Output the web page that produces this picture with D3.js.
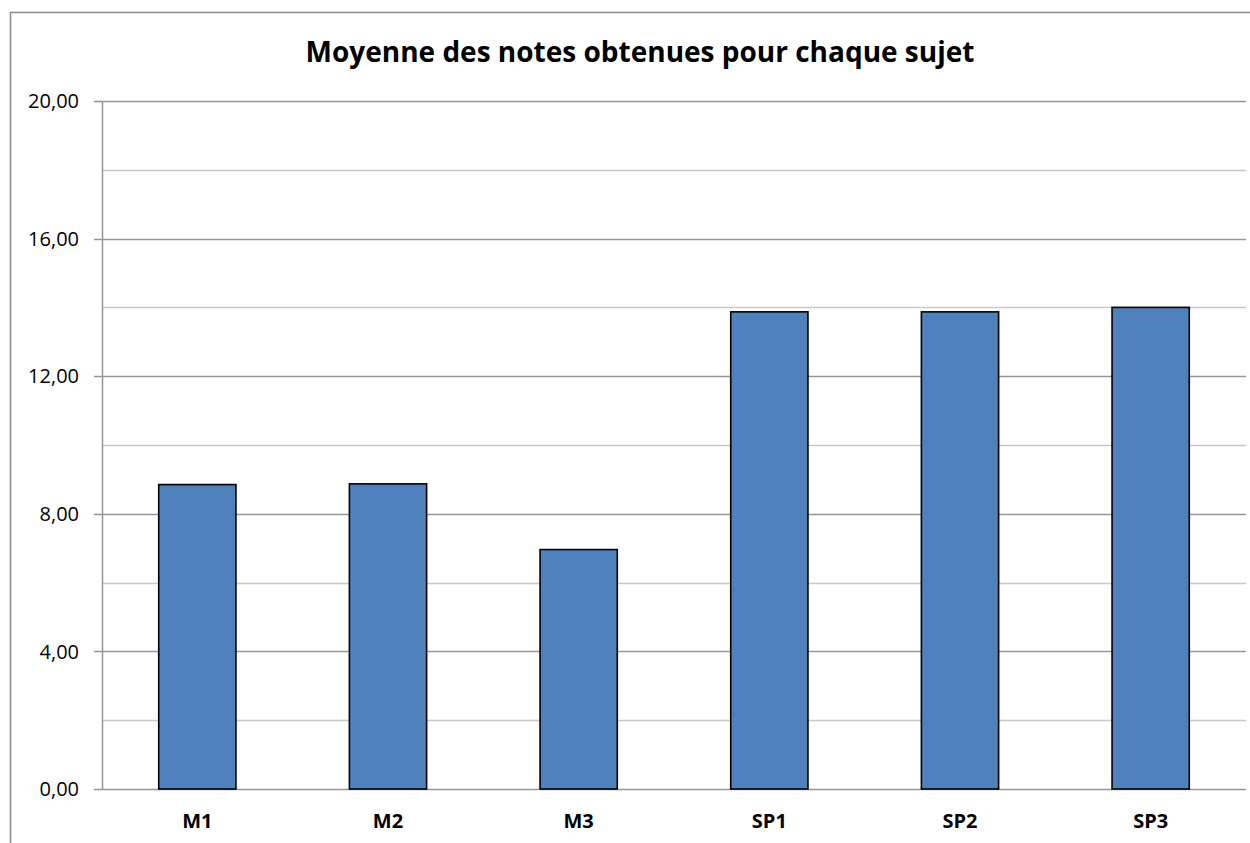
<!DOCTYPE html>
<html>
<head>
<meta charset="utf-8">
<script src="https://cdn.jsdelivr.net/npm/d3@7"></script>
<style>
  body { margin: 0; background: #fff; }
  svg { display: block; }
</style>
</head>
<body>
<div id="wrapper"></div>
<script>
const categories = ['M1', 'M2', 'M3', 'SP1', 'SP2', 'SP3']
const values = [8.85, 8.87, 6.96, 13.87, 13.87, 14.0]
const majorTicks = [0, 4, 8, 12, 16, 20]
const minorTicks = [2, 6, 10, 14, 18]
const title = 'Moyenne des notes obtenues pour chaque sujet'

const dimensions = {
  width: 1250,
  height: 843,
  margins: { top: 101, right: 4, bottom: 54, left: 102 },
}
dimensions.boundedWidth = dimensions.width - dimensions.margins.left - dimensions.margins.right
dimensions.boundedHeight = dimensions.height - dimensions.margins.top - dimensions.margins.bottom

const wrapper = d3.select('#wrapper')
  .append('svg')
    .attr('width', dimensions.width)
    .attr('height', dimensions.height)

// chart frame (cut off at right and bottom)
wrapper.append('path')
    .attr('d', 'M10.5,900 V12.5 H1300')
    .attr('fill', 'none')
    .attr('stroke', '#8c8c8c')
    .attr('stroke-width', 1.5)

wrapper.append('text')
    .attr('x', 640)
    .attr('y', 62)
    .attr('text-anchor', 'middle')
    .attr('font-family', 'Open Sans, sans-serif')
    .attr('font-weight', 'bold')
    .attr('font-size', 28)
    .attr('fill', '#000')
    .text(title)

const bounds = wrapper.append('g')
    .attr('transform', `translate(${dimensions.margins.left}, ${dimensions.margins.top})`)

const xScale = d3.scaleBand()
    .domain(categories)
    .range([0, dimensions.boundedWidth])
    .padding(0)

const yScale = d3.scaleLinear()
    .domain([0, 20])
    .range([dimensions.boundedHeight, 0])

// gridlines
bounds.append('g')
  .selectAll('line')
  .data(minorTicks)
  .join('line')
    .attr('x1', 0)
    .attr('x2', dimensions.boundedWidth)
    .attr('y1', d => Math.round(yScale(d)) + 0.5)
    .attr('y2', d => Math.round(yScale(d)) + 0.5)
    .attr('stroke', '#c8c8c8')
    .attr('stroke-width', 1.5)

bounds.append('g')
  .selectAll('line')
  .data(majorTicks)
  .join('line')
    .attr('x1', -8)
    .attr('x2', dimensions.boundedWidth)
    .attr('y1', d => Math.round(yScale(d)) + 0.5)
    .attr('y2', d => Math.round(yScale(d)) + 0.5)
    .attr('stroke', '#969696')
    .attr('stroke-width', 1.5)

// y axis line
bounds.append('line')
    .attr('x1', 0.5)
    .attr('x2', 0.5)
    .attr('y1', 0)
    .attr('y2', dimensions.boundedHeight)
    .attr('stroke', '#969696')
    .attr('stroke-width', 1.5)

// y tick labels
bounds.append('g')
  .selectAll('text')
  .data(majorTicks)
  .join('text')
    .attr('x', -23)
    .attr('y', d => yScale(d))
    .attr('dy', '0.36em')
    .attr('text-anchor', 'end')
    .attr('font-family', 'Open Sans, sans-serif')
    .attr('font-size', 20)
    .attr('fill', '#000')
    .text(d => d3.format('.2f')(d).replace('.', ','))

// bars
const barWidth = xScale.bandwidth() * 0.405
bounds.append('g')
  .selectAll('rect')
  .data(values)
  .join('rect')
    .attr('x', (d, i) => xScale(categories[i]) + (xScale.bandwidth() - barWidth) / 2)
    .attr('y', d => yScale(d))
    .attr('width', barWidth)
    .attr('height', d => dimensions.boundedHeight - yScale(d))
    .attr('fill', '#4f81bd')
    .attr('stroke', '#000')
    .attr('stroke-width', 1.6)

// x labels
bounds.append('g')
  .selectAll('text')
  .data(categories)
  .join('text')
    .attr('x', d => xScale(d) + xScale.bandwidth() / 2)
    .attr('y', dimensions.boundedHeight + 39)
    .attr('text-anchor', 'middle')
    .attr('font-family', 'Open Sans, sans-serif')
    .attr('font-weight', 'bold')
    .attr('font-size', 20)
    .attr('fill', '#000')
    .text(d => d)
</script>
</body>
</html>
